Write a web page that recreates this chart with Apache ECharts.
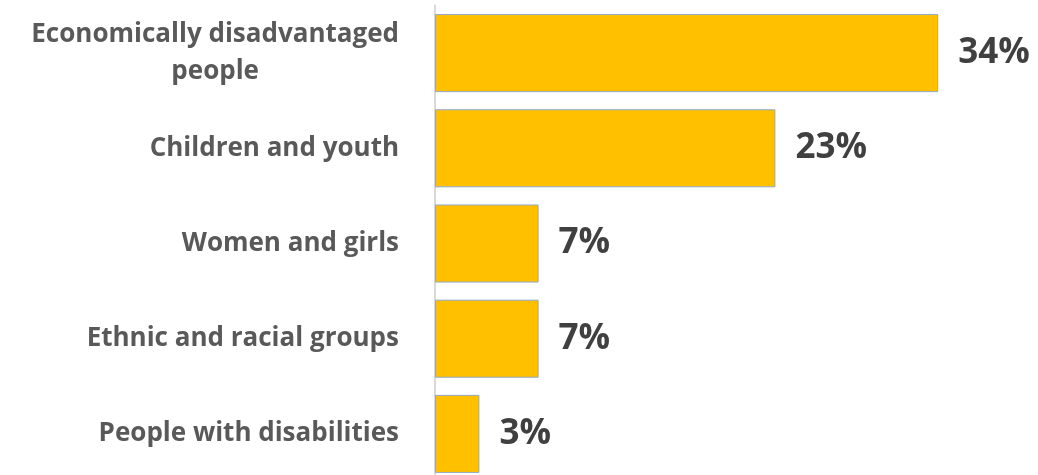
<!DOCTYPE html>
<html>
<head>
<meta charset="utf-8">
<script src="https://cdn.jsdelivr.net/npm/echarts@6/dist/echarts.min.js"></script>
<style>
html,body{margin:0;padding:0;background:#fff;}
#chart{width:1038px;height:475px;}
</style>
</head>
<body>
<div id="chart"></div>
<script>
const categories = ['Economically disadvantaged\npeople', 'Children and youth', 'Women and girls', 'Ethnic and racial groups', 'People with disabilities'];
const values = [34, 23, 7, 7, 3];

const chart = echarts.init(document.getElementById('chart'), null, {renderer: 'canvas'});
chart.setOption({
  animation: false,
  backgroundColor: '#ffffff',
  grid: {left: 435, right: 11, top: 5.5, height: 476, containLabel: false, outerBoundsMode: 'none'},
  xAxis: {
    type: 'value', min: 0, max: 40,
    show: false
  },
  yAxis: {
    type: 'category', inverse: true, data: categories,
    axisLine: {show: true, lineStyle: {color: '#d9d9d9', width: 2}},
    axisTick: {show: false},
    axisLabel: {
      margin: 36,
      formatter: function (v) { return v.split('\n').map(s => '{a|' + s + '}').join('\n'); },
      rich: {
        a: {
          align: 'center',
          fontFamily: 'Open Sans', fontWeight: 'bold', fontSize: 26,
          color: '#595959', lineHeight: 37
        }
      }
    }
  },
  series: [{
    type: 'bar',
    data: values,
    barCategoryGap: '18%',
    itemStyle: {color: '#FFC000', borderColor: '#8fa8cc', borderWidth: 1},
    label: {
      show: true, position: 'right', distance: 20,
      formatter: '{c}%',
      fontFamily: 'Open Sans', fontWeight: 'bold', fontSize: 35,
      color: '#404040'
    }
  }]
});
</script>
</body>
</html>
